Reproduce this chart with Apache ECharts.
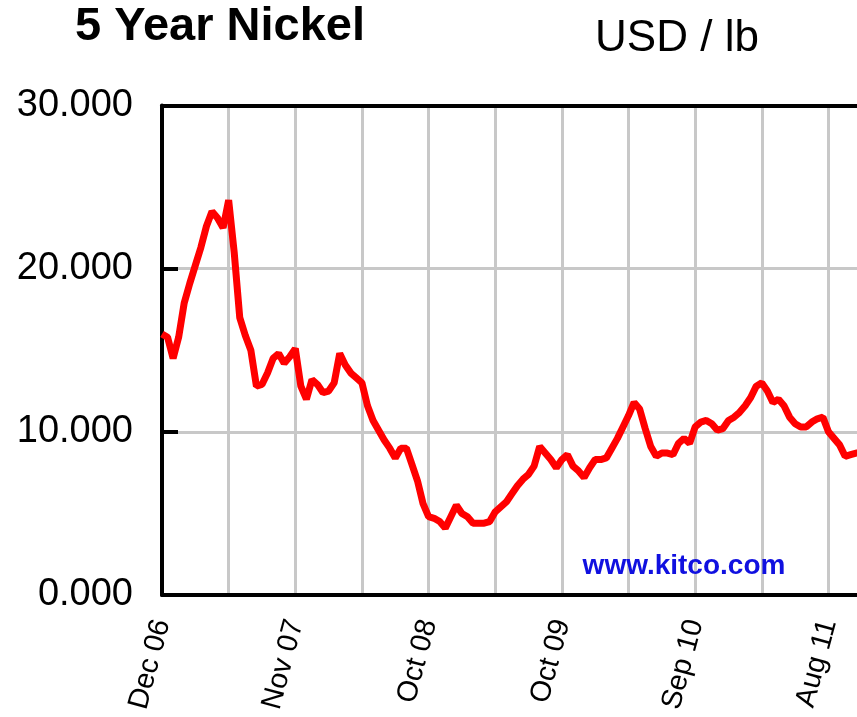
<!DOCTYPE html>
<html>
<head>
<meta charset="utf-8">
<script src="https://cdn.jsdelivr.net/npm/echarts@6/dist/echarts.min.js"></script>
<style>
html,body{margin:0;padding:0;background:#fff;}
#chart{width:857px;height:717px;}
</style>
</head>
<body>
<div id="chart"></div>
<script>
// Tick labels on the time axis (every 48 weeks)
var tickLabels = ['Dec 06', 'Nov 07', 'Oct 08', 'Oct 09', 'Sep 10', 'Aug 11'];
var weeksPerPoint = 2;   // one reading every two weeks
var yTicks = [0, 10, 20, 30];
// Nickel price, USD / lb, read every 2 weeks from Dec 06
var prices = [
  16.0, 15.8, 14.5, 15.8, 17.9, 19.1, 20.2, 21.3, 22.6, 23.5,
  23.1, 22.5, 24.2, 21.0, 17.0, 15.9, 15.0, 12.8, 12.9, 13.6,
  14.5, 14.8, 14.2, 14.6, 15.1, 12.8, 12.0, 13.2, 12.9, 12.4,
  12.5, 13.0, 14.8, 14.1, 13.6, 13.3, 13.0, 11.6, 10.7, 10.1,
  9.5, 9.0, 8.4, 9.0, 9.0, 8.0, 7.0, 5.6, 4.8, 4.7,
  4.5, 4.1, 4.8, 5.5, 5.0, 4.8, 4.4, 4.4, 4.4, 4.5,
  5.1, 5.4, 5.7, 6.2, 6.7, 7.1, 7.4, 7.9, 9.1, 8.7,
  8.3, 7.8, 8.3, 8.6, 7.9, 7.6, 7.2, 7.8, 8.3, 8.3,
  8.4, 9.0, 9.6, 10.3, 11.0, 11.8, 11.4, 10.2, 9.1, 8.5,
  8.7, 8.7, 8.6, 9.3, 9.6, 9.3, 10.3, 10.6, 10.7, 10.5,
  10.1, 10.2, 10.7, 10.9, 11.2, 11.6, 12.1, 12.8, 13.0, 12.5,
  11.8, 12.0, 11.6, 10.9, 10.5, 10.3, 10.3, 10.6, 10.8, 10.9,
  10.0, 9.6, 9.2, 8.5, 8.6, 8.7, 8.7
];

var seriesData = prices.map(function (v, i) { return [i * weeksPerPoint, v]; });

var chart = echarts.init(document.getElementById('chart'), null, {renderer: 'canvas'});
var font = 'Liberation Sans, Arial, sans-serif';
var gridLine = {show: true, lineStyle: {color: '#c8c8c8', width: 3}};
chart.setOption({
  animation: false,
  backgroundColor: '#ffffff',
  grid: {
    left: 162, top: 105.5, width: 722, height: 489.5,
    outerBoundsMode: 'none', containLabel: false
  },
  xAxis: [{
    type: 'value', min: 0, max: 260, interval: 24, position: 'bottom',
    axisLine: {show: true, onZero: false, lineStyle: {color: '#000', width: 4}},
    axisTick: {show: false},
    splitLine: gridLine,
    axisLabel: {
      rotate: 75, margin: 25, fontSize: 29, color: '#000', fontFamily: font,
      formatter: function (v) {
        return (v % 48 === 0 && tickLabels[v / 48]) ? tickLabels[v / 48] : '';
      }
    }
  }, {
    type: 'value', min: 0, max: 260, interval: 24, position: 'top',
    axisLine: {show: true, onZero: false, lineStyle: {color: '#000', width: 4}},
    axisTick: {show: false}, axisLabel: {show: false}, splitLine: {show: false}
  }],
  yAxis: {
    type: 'value', min: yTicks[0], max: yTicks[yTicks.length - 1], interval: 10,
    axisLine: {show: true, onZero: false, lineStyle: {color: '#000', width: 4}},
    axisTick: {show: true, inside: true, length: 16, lineStyle: {color: '#000', width: 4}},
    splitLine: gridLine,
    axisLabel: {
      margin: 29, fontSize: 38, color: '#000', fontFamily: font,
      formatter: function (v) { return v.toFixed(3); }
    }
  },
  series: [{
    type: 'line', data: seriesData, showSymbol: false, symbol: 'none',
    lineStyle: {color: '#ff0000', width: 7}, z: 3
  }],
  graphic: [
    {type: 'text', left: 75, top: 4, style: {text: '5 Year Nickel', font: 'bold 47px ' + font, fill: '#000'}},
    {type: 'text', x: 677, y: 39, style: {text: 'USD / lb', font: '44px ' + font, fill: '#000', align: 'center', verticalAlign: 'middle'}},
    {type: 'text', x: 684, y: 566, z: 10, style: {text: 'www.kitco.com', font: 'bold 28px ' + font, fill: '#1010e0', align: 'center', verticalAlign: 'middle'}}
  ]
});
</script>
</body>
</html>
